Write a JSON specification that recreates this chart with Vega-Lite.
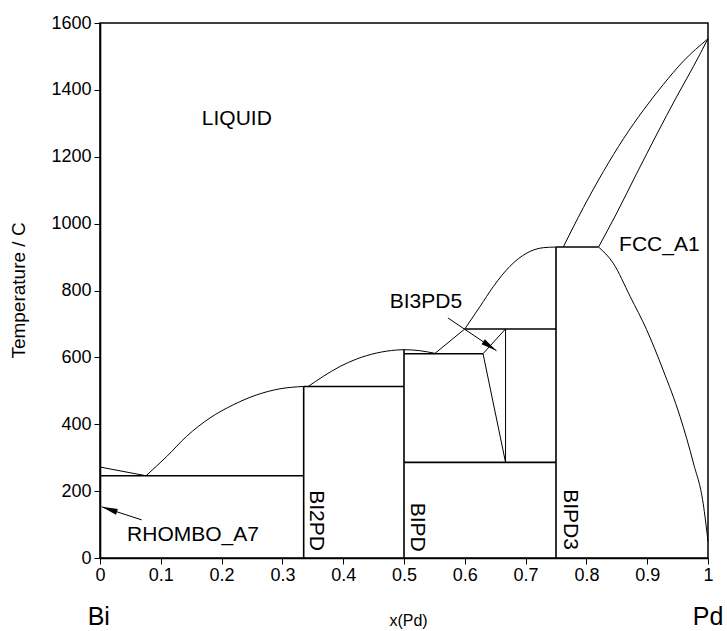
{
  "$schema": "https://vega.github.io/schema/vega-lite/v6.json",
  "width": 608,
  "height": 535,
  "autosize": "none",
  "padding": {"left": 100, "top": 23, "right": 19, "bottom": 73},
  "background": "white",
  "config": {
    "view": {"stroke": "black", "strokeWidth": 1.5},
    "font": "Liberation Sans",
    "axis": {
      "grid": false,
      "domainColor": "black",
      "domainWidth": 1.6,
      "tickColor": "black",
      "tickSize": 6,
      "tickWidth": 1,
      "labelColor": "black",
      "labelFont": "Liberation Sans",
      "labelFontSize": 18,
      "titleColor": "black",
      "titleFont": "Liberation Sans",
      "titleFontWeight": "normal"
    }
  },
  "datasets": {
    "lines": [
      {"seg": "liq_bi", "kind": "thin", "x": 0, "T": 272, "o": 0},
      {"seg": "liq_bi", "kind": "thin", "x": 0.0757, "T": 246, "o": 1},
      {"seg": "liq_bi2pd", "kind": "curve", "x": 0.0757, "T": 246, "o": 0},
      {"seg": "liq_bi2pd", "kind": "curve", "x": 0.11, "T": 304, "o": 1},
      {"seg": "liq_bi2pd", "kind": "curve", "x": 0.1425, "T": 364, "o": 2},
      {"seg": "liq_bi2pd", "kind": "curve", "x": 0.181, "T": 419, "o": 3},
      {"seg": "liq_bi2pd", "kind": "curve", "x": 0.219, "T": 458, "o": 4},
      {"seg": "liq_bi2pd", "kind": "curve", "x": 0.258, "T": 488, "o": 5},
      {"seg": "liq_bi2pd", "kind": "curve", "x": 0.296, "T": 506, "o": 6},
      {"seg": "liq_bi2pd", "kind": "curve", "x": 0.335, "T": 513, "o": 7},
      {"seg": "liq_bipd", "kind": "curve", "x": 0.3425, "T": 513, "o": 0},
      {"seg": "liq_bipd", "kind": "curve", "x": 0.367, "T": 543, "o": 1},
      {"seg": "liq_bipd", "kind": "curve", "x": 0.395, "T": 573, "o": 2},
      {"seg": "liq_bipd", "kind": "curve", "x": 0.422, "T": 595, "o": 3},
      {"seg": "liq_bipd", "kind": "curve", "x": 0.455, "T": 613, "o": 4},
      {"seg": "liq_bipd", "kind": "curve", "x": 0.488, "T": 622, "o": 5},
      {"seg": "liq_bipd", "kind": "curve", "x": 0.5, "T": 623, "o": 6},
      {"seg": "liq_bipd", "kind": "curve", "x": 0.526, "T": 620, "o": 7},
      {"seg": "liq_bipd", "kind": "curve", "x": 0.551, "T": 612, "o": 8},
      {"seg": "liq_b35", "kind": "thin", "x": 0.551, "T": 612, "o": 0},
      {"seg": "liq_b35", "kind": "thin", "x": 0.6, "T": 685, "o": 1},
      {"seg": "liq_bipd3", "kind": "curve", "x": 0.6, "T": 685, "o": 0},
      {"seg": "liq_bipd3", "kind": "curve", "x": 0.625, "T": 752, "o": 1},
      {"seg": "liq_bipd3", "kind": "curve", "x": 0.647, "T": 812, "o": 2},
      {"seg": "liq_bipd3", "kind": "curve", "x": 0.674, "T": 872, "o": 3},
      {"seg": "liq_bipd3", "kind": "curve", "x": 0.702, "T": 912, "o": 4},
      {"seg": "liq_bipd3", "kind": "curve", "x": 0.729, "T": 928, "o": 5},
      {"seg": "liq_bipd3", "kind": "curve", "x": 0.75, "T": 930, "o": 6},
      {"seg": "liq_pd", "kind": "curve", "x": 0.762, "T": 930, "o": 0},
      {"seg": "liq_pd", "kind": "curve", "x": 0.795, "T": 1048, "o": 1},
      {"seg": "liq_pd", "kind": "curve", "x": 0.828, "T": 1156, "o": 2},
      {"seg": "liq_pd", "kind": "curve", "x": 0.861, "T": 1254, "o": 3},
      {"seg": "liq_pd", "kind": "curve", "x": 0.894, "T": 1340, "o": 4},
      {"seg": "liq_pd", "kind": "curve", "x": 0.926, "T": 1415, "o": 5},
      {"seg": "liq_pd", "kind": "curve", "x": 0.959, "T": 1485, "o": 6},
      {"seg": "liq_pd", "kind": "curve", "x": 1, "T": 1553, "o": 7},
      {"seg": "sol_pd", "kind": "curve", "x": 0.82, "T": 930, "o": 0},
      {"seg": "sol_pd", "kind": "curve", "x": 0.85, "T": 1032, "o": 1},
      {"seg": "sol_pd", "kind": "curve", "x": 0.883, "T": 1151, "o": 2},
      {"seg": "sol_pd", "kind": "curve", "x": 0.916, "T": 1268, "o": 3},
      {"seg": "sol_pd", "kind": "curve", "x": 0.948, "T": 1378, "o": 4},
      {"seg": "sol_pd", "kind": "curve", "x": 0.976, "T": 1470, "o": 5},
      {"seg": "sol_pd", "kind": "curve", "x": 1, "T": 1553, "o": 6},
      {"seg": "solvus", "kind": "curve", "x": 0.82, "T": 930, "o": 0},
      {"seg": "solvus", "kind": "curve", "x": 0.844, "T": 882, "o": 1},
      {"seg": "solvus", "kind": "curve", "x": 0.872, "T": 782, "o": 2},
      {"seg": "solvus", "kind": "curve", "x": 0.899, "T": 683, "o": 3},
      {"seg": "solvus", "kind": "curve", "x": 0.926, "T": 563, "o": 4},
      {"seg": "solvus", "kind": "curve", "x": 0.954, "T": 423, "o": 5},
      {"seg": "solvus", "kind": "curve", "x": 0.976, "T": 284, "o": 6},
      {"seg": "solvus", "kind": "curve", "x": 0.992, "T": 164, "o": 7},
      {"seg": "solvus", "kind": "curve", "x": 1, "T": 50, "o": 8},
      {"seg": "b35a", "kind": "thin", "x": 0.63, "T": 611, "o": 0},
      {"seg": "b35a", "kind": "thin", "x": 0.667, "T": 685, "o": 1},
      {"seg": "b35b", "kind": "thin", "x": 0.63, "T": 611, "o": 0},
      {"seg": "b35b", "kind": "thin", "x": 0.667, "T": 286, "o": 1},
      {"seg": "b35c", "kind": "thin", "x": 0.667, "T": 286, "o": 0},
      {"seg": "b35c", "kind": "thin", "x": 0.667, "T": 685, "o": 1},
      {"seg": "arr1", "kind": "thin", "x": 0.0685, "T": 114, "o": 0},
      {"seg": "arr1", "kind": "thin", "x": 0.0028, "T": 153, "o": 1},
      {"seg": "arr2", "kind": "thin", "x": 0.5722, "T": 718, "o": 0},
      {"seg": "arr2", "kind": "thin", "x": 0.6521, "T": 620, "o": 1},
      {"seg": "eut", "kind": "inv", "x": 0, "T": 246, "o": 0},
      {"seg": "eut", "kind": "inv", "x": 0.335, "T": 246, "o": 1},
      {"seg": "bi2pd_v", "kind": "inv", "x": 0.335, "T": 0, "o": 0},
      {"seg": "bi2pd_v", "kind": "inv", "x": 0.335, "T": 513, "o": 1},
      {"seg": "bi2pd_h", "kind": "inv", "x": 0.335, "T": 513, "o": 0},
      {"seg": "bi2pd_h", "kind": "inv", "x": 0.5, "T": 513, "o": 1},
      {"seg": "bipd_v", "kind": "inv", "x": 0.5, "T": 0, "o": 0},
      {"seg": "bipd_v", "kind": "inv", "x": 0.5, "T": 623, "o": 1},
      {"seg": "h611", "kind": "inv", "x": 0.5, "T": 611, "o": 0},
      {"seg": "h611", "kind": "inv", "x": 0.63, "T": 611, "o": 1},
      {"seg": "h286", "kind": "inv", "x": 0.5, "T": 286, "o": 0},
      {"seg": "h286", "kind": "inv", "x": 0.75, "T": 286, "o": 1},
      {"seg": "h685", "kind": "inv", "x": 0.6, "T": 685, "o": 0},
      {"seg": "h685", "kind": "inv", "x": 0.75, "T": 685, "o": 1},
      {"seg": "bipd3_v", "kind": "inv", "x": 0.75, "T": 0, "o": 0},
      {"seg": "bipd3_v", "kind": "inv", "x": 0.75, "T": 930, "o": 1},
      {"seg": "h930", "kind": "inv", "x": 0.75, "T": 930, "o": 0},
      {"seg": "h930", "kind": "inv", "x": 0.82, "T": 930, "o": 1}
    ],
    "labels": [
      {"label": "LIQUID", "x": 0.225, "T": 1313},
      {"label": "FCC_A1", "x": 0.92, "T": 935},
      {"label": "BI3PD5", "x": 0.536, "T": 765},
      {"label": "RHOMBO_A7", "x": 0.153, "T": 70}
    ],
    "vlabels": [
      {"label": "BI2PD", "x": 0.356, "T": 112},
      {"label": "BIPD", "x": 0.521, "T": 92},
      {"label": "BIPD3", "x": 0.773, "T": 115}
    ],
    "elements": [
      {"label": "Bi", "x": -0.002, "T": -176},
      {"label": "Pd", "x": 1.0, "T": -176}
    ]
  },
  "layer": [
    {
      "data": {"name": "lines"},
      "transform": [{"filter": "datum.kind === 'curve'"}],
      "mark": {"type": "line", "color": "black", "strokeWidth": 1, "interpolate": "monotone"},
      "encoding": {
        "x": {
          "field": "x", "type": "quantitative",
          "scale": {"domain": [0, 1], "nice": false},
          "axis": {
            "values": [0, 0.1, 0.2, 0.3, 0.4, 0.5, 0.6, 0.7, 0.8, 0.9, 1],
            "format": "~g",
            "labelPadding": 2,
            "labelFlush": false,
            "title": "x(Pd)",
            "titleFontSize": 16,
            "titleX": 308,
            "titleY": 62,
            "titleBaseline": "middle"
          }
        },
        "y": {
          "field": "T", "type": "quantitative",
          "scale": {"domain": [0, 1600], "nice": false},
          "axis": {
            "values": [0, 200, 400, 600, 800, 1000, 1200, 1400, 1600],
            "format": "d",
            "labelPadding": 3,
            "labelFlush": false,
            "title": "Temperature / C",
            "titleFontSize": 19,
            "titleX": -82,
            "titleY": 267,
            "titleAngle": -90,
            "titleAlign": "center",
            "titleBaseline": "middle"
          }
        },
        "detail": {"field": "seg"},
        "order": {"field": "o"}
      }
    },
    {
      "data": {"name": "lines"},
      "transform": [{"filter": "datum.kind === 'thin'"}],
      "mark": {"type": "line", "color": "black", "strokeWidth": 1},
      "encoding": {
        "x": {"field": "x", "type": "quantitative"},
        "y": {"field": "T", "type": "quantitative"},
        "detail": {"field": "seg"},
        "order": {"field": "o"}
      }
    },
    {
      "data": {"name": "lines"},
      "transform": [{"filter": "datum.kind === 'inv'"}],
      "mark": {"type": "line", "color": "black", "strokeWidth": 1.6},
      "encoding": {
        "x": {"field": "x", "type": "quantitative"},
        "y": {"field": "T", "type": "quantitative"},
        "detail": {"field": "seg"},
        "order": {"field": "o"}
      }
    },
    {
      "data": {"values": [{"x": 0.0028, "T": 153}]},
      "mark": {"type": "point", "shape": "M0,0L0.3,1.6L-0.3,1.6Z", "filled": true, "color": "black", "opacity": 1, "size": 400, "angle": 288},
      "encoding": {
        "x": {"field": "x", "type": "quantitative"},
        "y": {"field": "T", "type": "quantitative"}
      }
    },
    {
      "data": {"values": [{"x": 0.6521, "T": 620}]},
      "mark": {"type": "point", "shape": "M0,0L0.3,1.6L-0.3,1.6Z", "filled": true, "color": "black", "opacity": 1, "size": 400, "angle": 124},
      "encoding": {
        "x": {"field": "x", "type": "quantitative"},
        "y": {"field": "T", "type": "quantitative"}
      }
    },
    {
      "data": {"name": "labels"},
      "mark": {"type": "text", "font": "Liberation Sans", "fontSize": 21, "color": "black", "align": "center", "baseline": "middle"},
      "encoding": {
        "x": {"field": "x", "type": "quantitative"},
        "y": {"field": "T", "type": "quantitative"},
        "text": {"field": "label"}
      }
    },
    {
      "data": {"name": "vlabels"},
      "mark": {"type": "text", "font": "Liberation Sans", "fontSize": 21, "color": "black", "align": "center", "baseline": "middle", "angle": 90},
      "encoding": {
        "x": {"field": "x", "type": "quantitative"},
        "y": {"field": "T", "type": "quantitative"},
        "text": {"field": "label"}
      }
    },
    {
      "data": {"name": "elements"},
      "mark": {"type": "text", "font": "Liberation Sans", "fontSize": 25, "color": "black", "align": "center", "baseline": "middle"},
      "encoding": {
        "x": {"field": "x", "type": "quantitative"},
        "y": {"field": "T", "type": "quantitative"},
        "text": {"field": "label"}
      }
    }
  ]
}
